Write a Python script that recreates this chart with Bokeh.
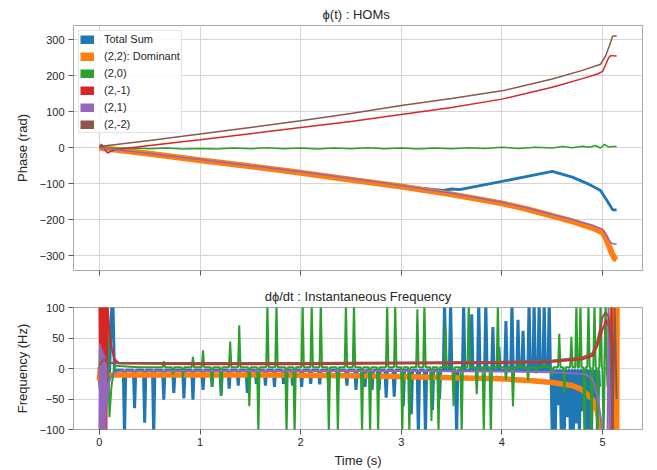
from bokeh.plotting import figure
from bokeh.layouts import column
from bokeh.models import Range1d, Legend, LegendItem, FixedTicker, CustomJSTickFormatter
from bokeh.embed import file_html
from bokeh.resources import INLINE

# ---------------- data: phase (top) ----------------
t_22 = [0.0, 0.5, 1.0, 1.5, 2.0, 2.5, 3.0, 3.5, 4.0, 4.25, 4.5, 4.7, 4.8, 4.9, 4.95, 5.0, 5.03, 5.06, 5.09, 5.12, 5.14]
phase_22 = [0, -17, -35, -52, -70, -89, -108, -130, -155, -171, -190, -205, -214, -223, -229, -236, -250, -270, -292, -308, -312]
phase_21 = [0, -16, -33, -50, -67, -86, -105, -127, -152, -168, -186, -200, -208, -216, -221, -227, -240, -256, -266, -268, -268]

t_tot = [0.0, 0.5, 1.0, 1.5, 2.0, 2.5, 3.0, 3.42, 3.5, 3.58, 4.0, 4.5, 4.7, 4.85, 4.98, 5.05, 5.1, 5.14]
phase_tot = [0, -17, -35, -52, -70, -89, -108, -119, -115, -117, -94, -66, -82, -100, -119, -150, -173, -173]

t_20 = [0.0, 0.17, 0.33, 0.5, 0.67, 0.83, 1.0, 1.17, 1.33, 1.5, 1.67, 1.83, 2.0, 2.17, 2.33, 2.5, 2.67, 2.83,
        3.0, 3.17, 3.33, 3.5, 3.67, 3.83, 4.0, 4.17, 4.33, 4.5, 4.6, 4.7, 4.8, 4.87, 4.93, 4.98, 5.02, 5.06, 5.1, 5.14]
phase_20 = [0, -2, -1, -3, -1, -4, -2, -4, -1, -3, 0, -3, -1, -4, -1, -3, 0, -3,
            -1, -4, -1, -3, 0, -2, 1, -2, 1, -1, 3, 0, 4, 1, 6, -1, 9, 2, 3, 3]

t_2m1 = [0.0, 0.02, 0.08, 0.15, 0.5, 1.0, 1.5, 2.0, 2.5, 3.0, 3.5, 4.0, 4.5, 4.8, 4.95, 5.0, 5.03, 5.06, 5.08, 5.14]
phase_2m1 = [0, 10, -15, -6, 6, 22, 39, 56, 73, 92, 112, 135, 168, 192, 205, 212, 230, 250, 256, 255]

t_2m2 = [0.0, 0.5, 1.0, 1.5, 2.0, 2.5, 3.0, 3.5, 4.0, 4.5, 4.8, 4.98, 5.03, 5.07, 5.1, 5.14]
phase_2m2 = [3, 20, 38, 56, 75, 95, 117, 137, 158, 191, 215, 232, 255, 285, 310, 311]

# ---------------- data: frequency (bottom) ----------------
ftot_head_t = [0.0, 0.03, 0.06, 0.1, 0.125, 0.135, 0.15, 0.17, 0.2]
ftot_head_v = [-20, -60, -30, -10, 110, 110, -10, -3, -3]
ftot_base = -3
ftot_spike_t = [0.25, 0.35, 0.45, 0.54, 0.64, 0.74, 0.84, 0.93, 1.03, 1.12, 1.21, 1.29, 1.38, 1.47, 1.56, 1.65,
                1.74, 1.83, 1.92, 2.01, 2.10, 2.19, 2.28, 2.37, 2.46, 2.55, 2.64, 2.71, 2.78, 2.85, 2.93, 3.02,
                3.10, 3.17, 3.24, 3.31, 3.38, 3.43, 3.49, 3.55, 3.62, 3.70, 3.77, 3.84, 3.91, 3.97, 4.04, 4.10,
                4.16, 4.21, 4.27, 4.32, 4.37, 4.42, 4.47, 4.50, 4.53, 4.56, 4.59, 4.62, 4.65, 4.68, 4.71, 4.74,
                4.77, 4.80, 4.83, 4.86, 4.89, 4.92, 4.95]
ftot_spike_v = [-110, -65, -89, -110, -51, -40, -49, -51, -35, -30, -44, -33, -28, -40, -25, -28,
                -30, -25, -28, -30, -25, -26, -30, -28, -28, -35, -30, -35, -35, -48, -46, -62,
                -75, -110, -110, -68, -50, 110, 110, -110, 110, 89, 110, 110, 68, 35, 78, 110,
                80, 62, 110, 110, 110, 110, 110, -110, -110, -60, -110, -110, -80, -110, -110, -90,
                -110, -70, -110, -100, -110, -60, -110]
ftot_tail_t = [4.97]
ftot_tail_v = [-30]

f22_t = [0.0, 0.01, 0.02, 0.03, 0.05, 0.1, 0.5, 1.0, 2.0, 2.5, 3.0, 3.5, 4.0, 4.3, 4.5, 4.7, 4.8, 4.9, 4.95,
         4.98, 5.02, 5.08, 5.11, 5.12, 5.13, 5.14, 5.145]
f22_v = [-20, 2, -22, 2, -12, -10.5, -10.5, -10.5, -11, -12, -13, -15, -17, -20, -23, -28, -35, -51, -72,
         -100, -160, -200, 200, -200, 200, -200, 200]

f20_head_t = [0.0, 0.02, 0.035, 0.05, 0.065, 0.08, 0.1, 0.12, 0.15, 0.2, 0.3, 0.4, 0.5]
f20_head_v = [0, 110, -10, 110, -40, 110, -80, -30, 5, 4, 3, 2, 2]
f20_base = 2
f20_spike_t = [0.64, 0.73, 0.83, 0.93, 1.03, 1.12, 1.21, 1.30, 1.39, 1.49, 1.58, 1.67, 1.76, 1.86, 1.94, 2.02,
               2.11, 2.20, 2.28, 2.37, 2.45, 2.53, 2.61, 2.69, 2.77, 2.86, 2.94, 3.01, 3.08, 3.16, 3.23, 3.30,
               3.37, 3.44, 3.52, 3.60, 3.67, 3.75, 3.82, 3.89, 3.96, 4.04, 4.11, 4.18, 4.26, 4.34, 4.42, 4.50,
               4.57, 4.62, 4.69, 4.74, 4.78, 4.82, 4.86, 4.89, 4.92, 4.95, 4.98, 5.01, 5.03]
f20_spike_v = [12, -10, -15, 19, 30, -30, -45, 44, 71, -62, -110, 110, 110, -110, -110, 110,
               110, 110, -110, -110, 110, 110, -110, -110, -110, 110, 110, -110, -110, 97, 110, -86,
               -110, 68, -62, -110, 110, -42, -110, -110, 110, -19, -62, 15, -20, -8, 10, -12,
               57, -40, 52, 110, 110, -110, 110, -110, 110, -110, 110, -110, 110]
f20_tail_t = [5.05, 5.07, 5.09]
f20_tail_v = [-30, 20, 10]

f2m1_t = [0.0, 0.01, 0.02, 0.03, 0.04, 0.05, 0.06, 0.07, 0.08, 0.1, 0.12, 0.15, 0.2, 1.0, 2.0, 3.0, 4.0, 4.5,
          4.8, 4.9, 4.95, 5.0, 5.04, 5.06, 5.075, 5.09, 5.1]
f2m1_v = [110, -110, 110, -110, 110, -110, 110, -110, 110, 60, 35, 15, 8, 7, 7, 8, 9, 11,
          15, 21, 38, 64, 80, 68, -110, 110, -110]

f21_t = [0.0, 0.006, 0.012, 0.018, 0.024, 0.03, 0.036, 0.042, 0.048, 0.054, 0.06, 0.066, 0.075, 0.09, 0.12,
         0.16, 0.2, 1.0, 2.0, 3.0, 4.0, 4.5, 4.74, 4.84, 4.9, 4.95, 4.98, 5.0, 5.05, 5.06, 5.075, 5.085]
f21_v = [-110, 40, -110, 35, -110, 30, -110, 25, -110, 20, -110, 10, -60, -25, -12,
         -6, -4, -4, -4, -4, -5, -6, -8, -10, -17, -46, -78, -110, -110, 110, -110, 20]

f2m2_t = [0.0, 0.03, 0.05, 0.07, 0.1, 0.2, 1.0, 2.0, 3.0, 4.0, 4.5, 4.8, 4.9, 4.95, 5.0, 5.03, 5.06, 5.08,
          5.1, 5.12, 5.14]
f2m2_v = [5, 12, 15, 10, 9, 9, 9, 9, 10, 11, 13, 18, 25, 46, 84, 92, 85, 40, -110, 100, -50]

names = ["Total Sum", "(2,2): Dominant", "(2,0)", "(2,-1)", "(2,1)", "(2,-2)"]
colors = ["#1f77b4", "#ff7f0e", "#2ca02c", "#d62728", "#9467bd", "#8c564b"]

x_ticks = [0, 1, 2, 3, 4, 5]
phase_ticks = [-300, -200, -100, 0, 100, 200, 300]
freq_ticks = [-100, -50, 0, 50, 100]


def with_spikes(head_t, head_v, st, sv, base, tail_t, tail_v, hw=0.012):
    ts, vs = list(head_t), list(head_v)
    for t, v in zip(st, sv):
        ts += [t - hw, t, t + hw]
        vs += [base, v, base]
    return ts + list(tail_t), vs + list(tail_v)


FONT = "Liberation Sans"
TXT = "#262626"
minus_fmt = CustomJSTickFormatter(code="return tick < 0 ? '\u2212' + Math.abs(tick) : String(tick);")
blank_fmt = CustomJSTickFormatter(code="return '';")

x_range = Range1d(-0.257, 5.397)


def style(p, yticks, title):
    p.title.text = title
    p.title.align = "center"
    p.title.text_font = FONT
    p.title.text_font_size = "13px"
    p.title.text_font_style = "normal"
    p.title.text_color = TXT
    p.title.standoff = 8
    p.outline_line_color = "#a8a8a8"
    p.outline_line_width = 1
    p.background_fill_color = "white"
    for ax in (p.xaxis, p.yaxis):
        ax.axis_line_color = None
        ax.major_tick_line_color = "#555555"
        ax.major_tick_out = 5
        ax.major_tick_in = 0
        ax.minor_tick_line_color = None
        ax.major_label_text_font = FONT
        ax.major_label_text_font_size = "11px"
        ax.major_label_text_color = TXT
        ax.axis_label_text_font = FONT
        ax.axis_label_text_font_size = "13px"
        ax.axis_label_text_font_style = "normal"
        ax.axis_label_text_color = TXT
    p.xaxis.ticker = FixedTicker(ticks=x_ticks)
    p.yaxis.ticker = FixedTicker(ticks=yticks)
    p.yaxis.formatter = minus_fmt
    p.xaxis.major_label_standoff = 3
    p.yaxis.major_label_standoff = 4
    p.yaxis.axis_label_standoff = 7
    p.grid.grid_line_color = "#d5d5d5"
    p.grid.grid_line_width = 1


W = 657
p1 = figure(width=W, height=282, x_range=x_range, y_range=Range1d(-341.7, 339.8),
            output_backend="svg", toolbar_location=None,
            min_border_left=73, min_border_right=15, min_border_top=25, min_border_bottom=12)
style(p1, phase_ticks, "ϕ(t) :  HOMs")
p1.xaxis.formatter = blank_fmt
p1.xaxis.major_label_standoff = 0
p1.yaxis.axis_label = "Phase (rad)"

p1.line(t_tot, phase_tot, color=colors[0], line_width=2.8)
p1.line(t_22, phase_22, color=colors[1], line_width=6)
p1.line(t_20, phase_20, color=colors[2], line_width=1.5)
p1.line(t_2m1, phase_2m1, color=colors[3], line_width=1.5)
p1.line(t_22, phase_21, color=colors[4], line_width=1.5)
p1.line(t_2m2, phase_2m2, color=colors[5], line_width=1.5)

# legend swatches: one-point lines (draw nothing in the frame, give filled legend keys)
first_pts = [(t_tot[0], phase_tot[0]), (t_22[0], phase_22[0]), (t_20[0], phase_20[0]),
             (t_2m1[0], phase_2m1[0]), (t_22[0], phase_21[0]), (t_2m2[0], phase_2m2[0])]
items = []
for n, c, (x0, y0) in zip(names, colors, first_pts):
    r = p1.line(x=[x0], y=[y0], line_color=c, line_width=9, line_cap="butt")
    items.append(LegendItem(label=n, renderers=[r]))
legend = Legend(items=items, location="top_left", margin=5, padding=1, spacing=3,
                label_text_font=FONT, label_text_font_size="11px", label_text_color=TXT,
                glyph_width=14, glyph_height=9, label_height=14, label_standoff=10,
                border_line_color="#cccccc", border_line_width=1, background_fill_alpha=0.85)
p1.add_layout(legend)

p2 = figure(width=W, height=188, x_range=x_range, y_range=Range1d(-100, 100),
            output_backend="svg", toolbar_location=None,
            min_border_left=73, min_border_right=15, min_border_top=25, min_border_bottom=40)
style(p2, freq_ticks, "dϕ/dt : Instantaneous Frequency")
p2.yaxis.axis_label = "Frequency (Hz)"
p2.xaxis.axis_label = "Time (s)"
p2.xaxis.axis_label_standoff = 4

bt, bv = with_spikes(ftot_head_t, ftot_head_v, ftot_spike_t, ftot_spike_v, ftot_base, ftot_tail_t, ftot_tail_v)
gt, gv = with_spikes(f20_head_t, f20_head_v, f20_spike_t, f20_spike_v, f20_base, f20_tail_t, f20_tail_v)
p2.line(bt, bv, color=colors[0], line_width=3)
p2.line(f22_t, f22_v, color=colors[1], line_width=5.5)
p2.line(gt, gv, color=colors[2], line_width=2)
p2.line(f2m1_t, f2m1_v, color=colors[3], line_width=2)
p2.line(f21_t, f21_v, color=colors[4], line_width=2)
p2.line(f2m2_t, f2m2_v, color=colors[5], line_width=2)

layout = column(p1, p2)
open("out.html", "w").write(file_html(layout, INLINE))
